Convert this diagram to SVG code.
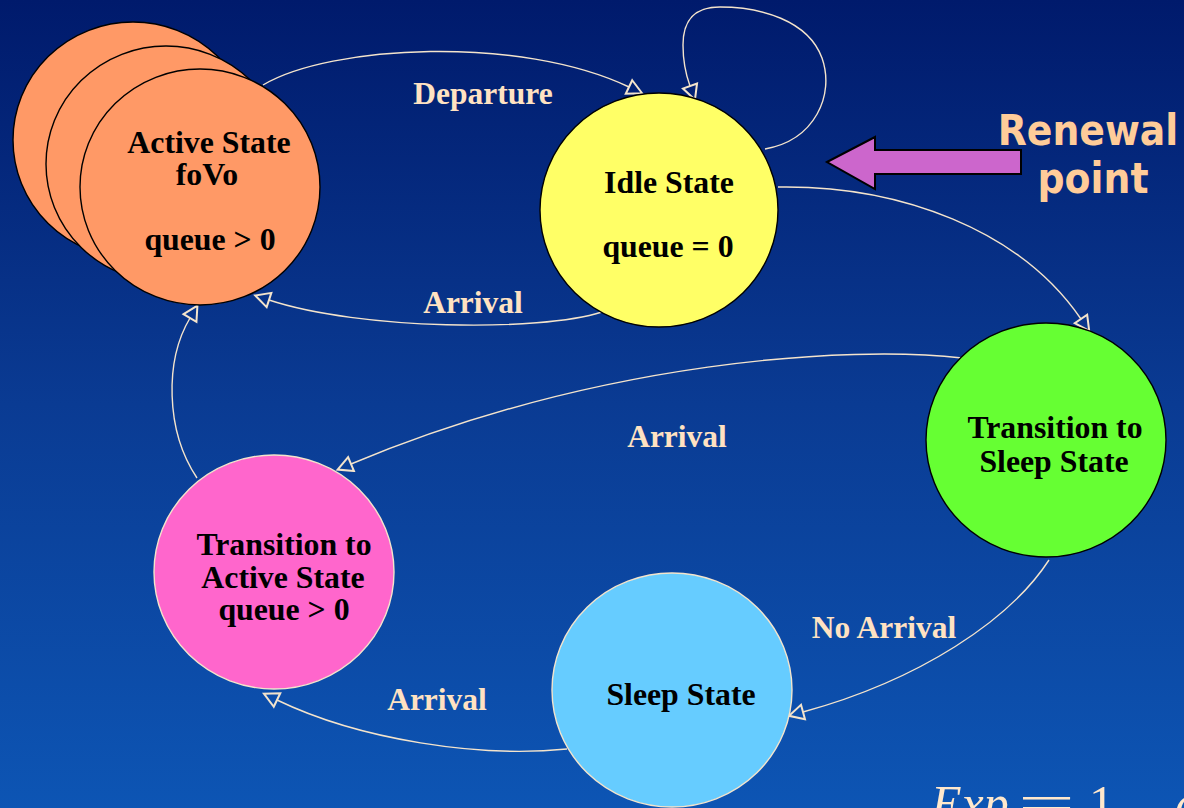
<svg xmlns="http://www.w3.org/2000/svg" width="1184" height="808" viewBox="0 0 1184 808">
  <defs>
    <linearGradient id="bg" x1="0" y1="0" x2="0" y2="1">
      <stop offset="0" stop-color="#001a6c"/>
      <stop offset="0.5" stop-color="#0a3b93"/>
      <stop offset="1" stop-color="#0d55b4"/>
    </linearGradient>
    <!-- open triangular arrowhead; base sits on the path end, tip extends forward -->
    <marker id="tri" markerUnits="userSpaceOnUse" viewBox="-2 -10 19 20" refX="0" refY="0" markerWidth="19" markerHeight="20" orient="auto">
      <path d="M0,-7.5 L14.5,0 L0,7.5 Z" fill="none" stroke="#f4e4cc" stroke-width="2" stroke-linejoin="miter"/>
    </marker>
  </defs>
  <style>
    .node { stroke: #000; stroke-width: 1.4; }
    .node-light { stroke: #f4e4cc; stroke-width: 1.4; }
    .ntext { font-family: "Liberation Serif", "Times New Roman", serif; font-weight: bold; font-size: 31.8px; fill: #000; text-anchor: middle; }
    .elabel { font-family: "Liberation Serif", "Times New Roman", serif; font-weight: bold; font-size: 31.5px; fill: #ffe2c2; text-anchor: middle; }
    .edge { fill: none; stroke: #f4e4cc; stroke-width: 1.4; marker-end: url(#tri); }
    .renew { font-family: "DejaVu Sans Condensed", "DejaVu Sans", sans-serif; font-weight: bold; font-size: 42px; fill: #ffcc99; text-anchor: middle; }
    .math { font-family: "Liberation Serif", "Times New Roman", serif; font-size: 50px; fill: #ffe8cc; }
  </style>

  <rect x="0" y="0" width="1184" height="808" fill="url(#bg)"/>

  <!-- transitions -->
  <g id="connectors">
    <path class="edge" d="M263,85 C330,45 520,35 629,87"/>
    <path class="edge" d="M765,149 C815,140 835,95 822,58 C808,20 760,7 720,7 C690,7 683,25 683,45 C683,60 686,75 690,86"/>
    <path class="edge" d="M602,312 C540,332 360,330 269,300"/>
    <path class="edge" d="M778,187 C900,185 1020,230 1081,319"/>
    <path class="edge" d="M962,358 C850,345 600,360 351,464"/>
    <path class="edge" d="M1049,560 C1010,620 920,680 803,712"/>
    <path class="edge" d="M567,749 C480,758 360,740 277,700"/>
    <path class="edge" d="M197,478 C165,430 165,360 190,318"/>
  </g>

  <!-- transition labels -->
  <g id="labels">
    <text class="elabel" x="483" y="104">Departure</text>
    <text class="elabel" x="473" y="313">Arrival</text>
    <text class="elabel" x="677" y="447">Arrival</text>
    <text class="elabel" x="884" y="638">No Arrival</text>
    <text class="elabel" x="437" y="710">Arrival</text>
  </g>

  <!-- active state: stacked copies -->
  <g id="active-state">
    <ellipse class="node" cx="133" cy="140" rx="120" ry="118" fill="#ff9966"/>
    <ellipse class="node" cx="166" cy="164" rx="120" ry="118" fill="#ff9966"/>
    <ellipse class="node" cx="200" cy="187" rx="120" ry="118" fill="#ff9966"/>
    <text class="ntext" x="209" y="153">Active State</text>
    <text class="ntext" x="207" y="185">foVo</text>
    <text class="ntext" x="210" y="250">queue &gt; 0</text>
  </g>

  <g id="idle-state">
    <ellipse class="node" cx="659" cy="210" rx="119" ry="117" fill="#ffff66"/>
    <text class="ntext" x="669" y="193">Idle State</text>
    <text class="ntext" x="668" y="257">queue = 0</text>
  </g>

  <g id="to-sleep-state">
    <ellipse class="node" cx="1046" cy="440" rx="120" ry="117" fill="#66ff33"/>
    <text class="ntext" x="1055" y="438">Transition to</text>
    <text class="ntext" x="1054" y="472">Sleep State</text>
  </g>

  <g id="to-active-state">
    <ellipse class="node-light" cx="274" cy="572" rx="120" ry="117" fill="#ff66cc"/>
    <text class="ntext" x="284" y="555">Transition to</text>
    <text class="ntext" x="283" y="588">Active State</text>
    <text class="ntext" x="284" y="620">queue &gt; 0</text>
  </g>

  <g id="sleep-state">
    <ellipse class="node-light" cx="672" cy="690" rx="120" ry="117" fill="#66ccff"/>
    <text class="ntext" x="681" y="705">Sleep State</text>
  </g>

  <!-- renewal point callout -->
  <g id="renewal-point">
    <path d="M827,162 L875,137 L875,150 L1021,150 L1021,174 L875,174 L875,189 Z" fill="#cc66cc" stroke="#000" stroke-width="2"/>
    <text class="renew" x="1088" y="145">Renewal</text>
    <text class="renew" x="1093" y="193">point</text>
  </g>

  <!-- formula running off the bottom edge -->
  <g id="formula">
    <text class="math" x="931" y="820" font-style="italic">Exp</text>
    <text class="math" x="1018" y="820" textLength="57" lengthAdjust="spacingAndGlyphs">=</text>
    <text class="math" x="1089" y="820">1</text>
    <text class="math" x="1175" y="820" font-style="italic">e</text>
  </g>
</svg>
